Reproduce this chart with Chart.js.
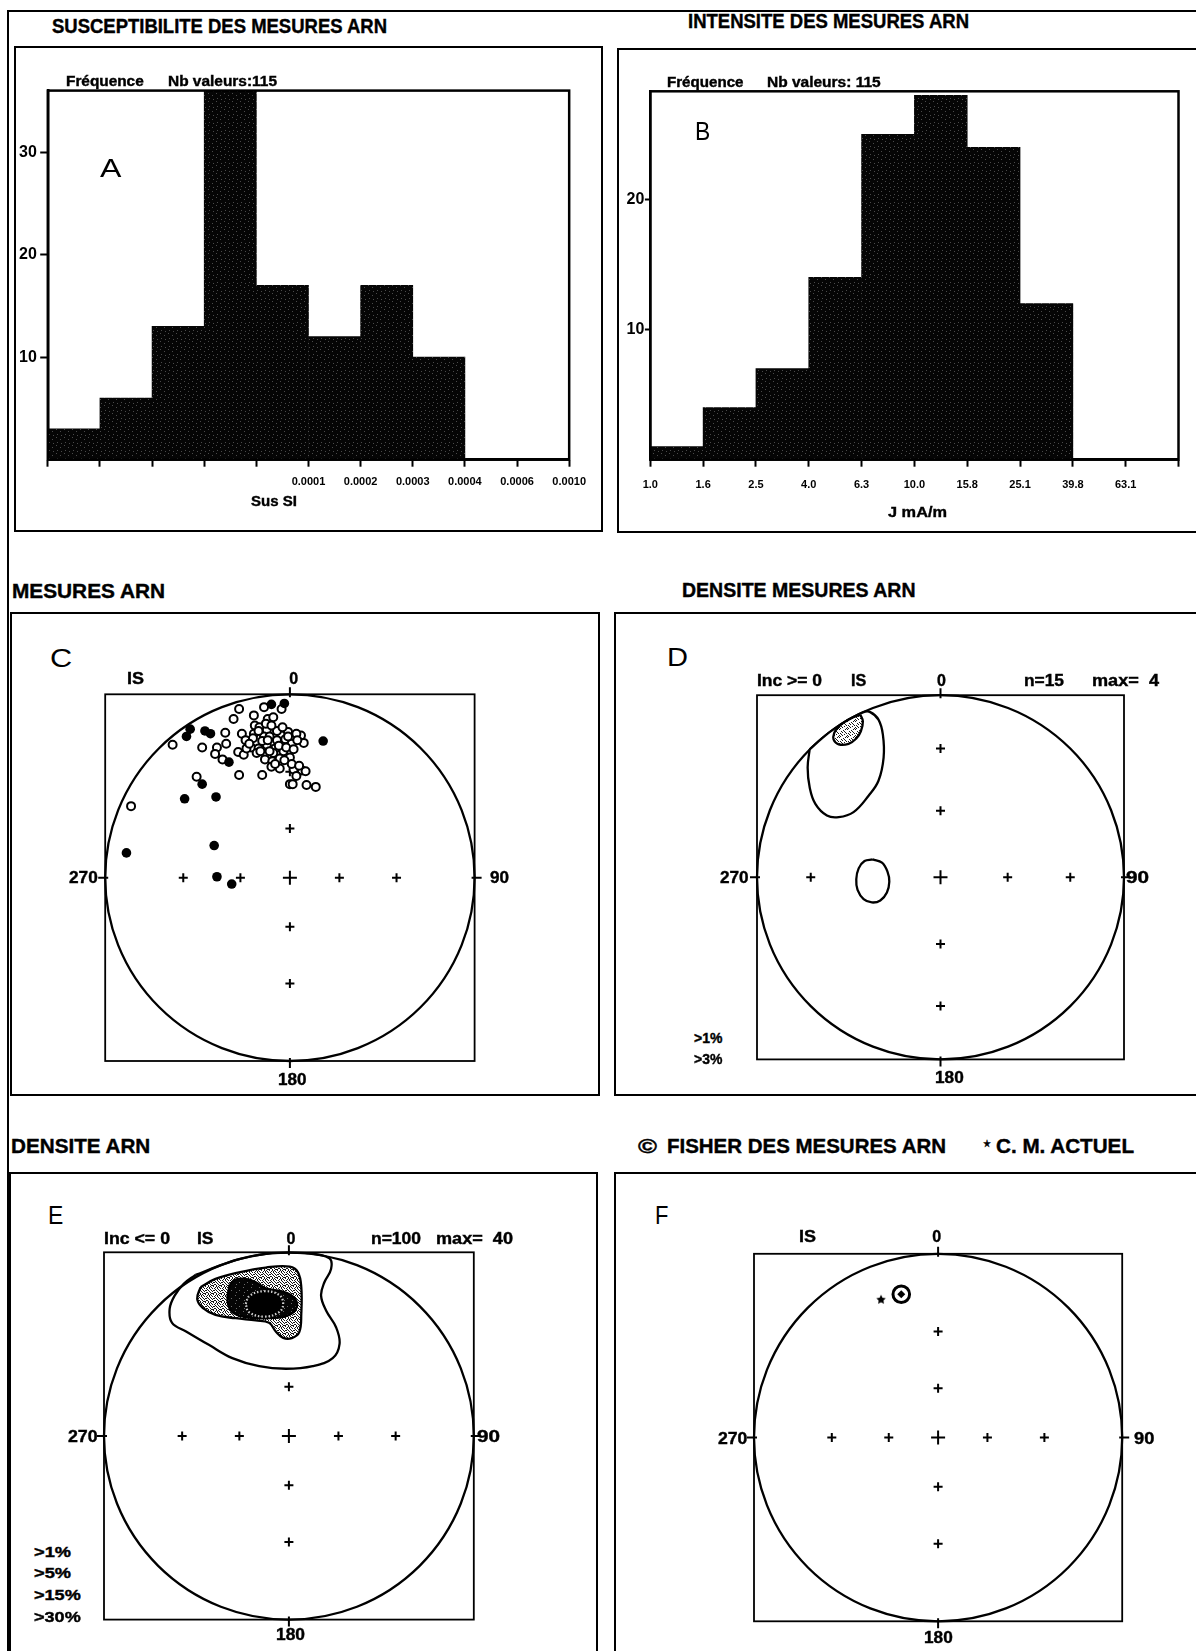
<!DOCTYPE html>
<html>
<head>
<meta charset="utf-8">
<script src="https://cdn.jsdelivr.net/npm/chart.js@4.4.1/dist/chart.umd.min.js"></script>
<style>
   html, body { margin: 0; padding: 0; background: #fff; }
   body { position: relative; width: 1196px; height: 1651px; overflow: hidden; }
   .box { position: absolute; border: 2px solid #000; box-sizing: border-box; }
   .lbl { position: absolute; white-space: pre; line-height: 1; color: #000; font-family: 'Liberation Sans', Arial, Helvetica, sans-serif; transform-origin: 0 0; -webkit-text-stroke: 0.4px #000; }
   canvas { position: absolute; }
</style>
</head>
<body>
<script>
// ---- A : susceptibility histogram (10 classes, log classes)
const susClassLabels = ['', '', '', '', '', '0.0001', '0.0002', '0.0003', '0.0004', '0.0006', '0.0010'];
const susCounts = [3, 6, 13, 37, 17, 12, 17, 10, 0, 0];
const susYTicks = [10, 20, 30];
const susYMax = 36;

// ---- B : intensity histogram (J mA/m)
const intClassLabels = ['1.0', '1.6', '2.5', '4.0', '6.3', '10.0', '15.8', '25.1', '39.8', '63.1', ''];
const intCounts = [1, 4, 7, 14, 25, 28, 24, 12, 0, 0];
const intYTicks = [10, 20];
const intYMax = 28.3;

// ---- stereonet grid: crosses at these inclinations
const gridInclinations = [60, 30];

// ---- C : directions, projected (x = east, y = north, unit = primitive radius)
// filled = Inc >= 0
const positiveInc = [
   [-0.10, 0.945], [-0.03, 0.95], [-0.54, 0.81], [-0.56, 0.77], [-0.46, 0.80],
   [-0.43, 0.785], [0.18, 0.745], [-0.33, 0.63], [-0.475, 0.51], [-0.57, 0.43],
   [-0.40, 0.44], [-0.41, 0.175], [-0.885, 0.135], [-0.395, 0.005], [-0.315, -0.035]
];
// open = Inc <= 0
const negativeInc = [
   [-0.275, 0.92], [-0.14, 0.93], [-0.045, 0.92], [-0.305, 0.865], [-0.195, 0.885],
   [-0.12, 0.865], [-0.09, 0.875], [-0.19, 0.83], [-0.165, 0.82], [-0.125, 0.805],
   [-0.35, 0.79], [-0.26, 0.785], [-0.195, 0.785], [-0.24, 0.75], [-0.14, 0.77],
   [-0.11, 0.77], [-0.045, 0.775], [-0.01, 0.795], [0.025, 0.77], [0.06, 0.775],
   [0.075, 0.735], [-0.025, 0.755], [-0.07, 0.75], [-0.635, 0.725], [-0.475, 0.71],
   [-0.395, 0.71], [-0.345, 0.73], [-0.405, 0.675], [-0.365, 0.645], [-0.28, 0.685],
   [-0.25, 0.67], [-0.21, 0.71], [-0.17, 0.705], [-0.125, 0.725], [-0.08, 0.705],
   [-0.035, 0.69], [0.01, 0.73], [-0.09, 0.68], [-0.135, 0.645], [-0.095, 0.635],
   [-0.055, 0.65], [0.0, 0.655], [-0.10, 0.605], [-0.055, 0.595], [0.02, 0.59],
   [0.065, 0.585], [0.085, 0.58], [-0.505, 0.55], [-0.275, 0.56], [-0.15, 0.56],
   [0.035, 0.555], [0.0, 0.51], [0.015, 0.51], [0.09, 0.505], [0.14, 0.495],
   [-0.86, 0.39], [-0.235, 0.705], [-0.01, 0.77], [0.035, 0.785],
   [-0.17, 0.80], [-0.15, 0.745], [-0.06, 0.72], [-0.02, 0.71], [0.04, 0.75],
   [-0.11, 0.69], [-0.20, 0.76], [-0.13, 0.84], [-0.07, 0.80], [0.01, 0.62],
   [-0.03, 0.64], [0.05, 0.61], [-0.08, 0.62], [-0.18, 0.68], [-0.22, 0.73],
   [-0.04, 0.82], [0.02, 0.70], [-0.12, 0.75], [-0.10, 0.83], [-0.16, 0.69]
];

// ---- D : density contours, Inc >= 0 (equal-area net)
const densPos1a = [
   [-0.713, 0.702], [-0.724, 0.603], [-0.713, 0.494], [-0.682, 0.403], [-0.619, 0.339],
   [-0.555, 0.330], [-0.474, 0.358], [-0.392, 0.448], [-0.338, 0.530], [-0.310, 0.657],
   [-0.314, 0.784], [-0.338, 0.866], [-0.383, 0.907], [-0.419, 0.907], [-0.50, 0.866],
   [-0.574, 0.819], [-0.643, 0.766]
];
const densPos1b = [
   [-0.370, 0.098], [-0.319, 0.080], [-0.289, 0.031], [-0.279, -0.024], [-0.292, -0.083],
   [-0.328, -0.127], [-0.374, -0.138], [-0.419, -0.120], [-0.452, -0.069], [-0.459, -0.011],
   [-0.446, 0.049], [-0.414, 0.089]
];
const densPos3 = [
   [-0.437, 0.893], [-0.423, 0.857], [-0.434, 0.802], [-0.459, 0.762], [-0.501, 0.733],
   [-0.555, 0.730], [-0.583, 0.757], [-0.579, 0.793], [-0.561, 0.820], [-0.53, 0.848],
   [-0.48, 0.877]
];

// ---- E : density contours, Inc <= 0
const densNeg1 = [
   [-0.505, 0.877], [-0.569, 0.828], [-0.618, 0.764], [-0.645, 0.692], [-0.632, 0.616],
   [-0.556, 0.569], [-0.433, 0.496], [-0.306, 0.424], [-0.161, 0.380], [-0.016, 0.366],
   [0.129, 0.380], [0.237, 0.424], [0.274, 0.502], [0.255, 0.592], [0.201, 0.683],
   [0.174, 0.764], [0.192, 0.837], [0.228, 0.909], [0.219, 0.967], [0.087, 0.996],
   [-0.087, 0.996], [-0.259, 0.966], [-0.375, 0.927]
];
const densNeg5 = [
   [-0.478, 0.810], [-0.496, 0.746], [-0.466, 0.697], [-0.397, 0.659], [-0.288, 0.641],
   [-0.179, 0.629], [-0.107, 0.616], [-0.071, 0.569], [-0.031, 0.534], [0.016, 0.533],
   [0.056, 0.565], [0.067, 0.665], [0.067, 0.810], [0.049, 0.891], [0.005, 0.922],
   [-0.125, 0.917], [-0.270, 0.891], [-0.397, 0.855]
];
const densNeg15 = [
   [-0.321, 0.822], [-0.332, 0.737], [-0.306, 0.674], [-0.234, 0.647], [-0.125, 0.641],
   [-0.016, 0.652], [0.038, 0.692], [0.034, 0.746], [-0.025, 0.783], [-0.125, 0.804],
   [-0.179, 0.837], [-0.234, 0.855], [-0.292, 0.850]
];
const densNeg30 = [
   [-0.234, 0.719], [-0.212, 0.764], [-0.134, 0.788], [-0.053, 0.768], [-0.031, 0.719],
   [-0.053, 0.674], [-0.134, 0.650], [-0.216, 0.674]
];

// ---- F : Fisher mean of the measures and present field direction
const fisherMean = [-0.20, 0.78];
const presentField = [-0.31, 0.75];

const FONT = "'Liberation Sans', Arial, Helvetica, sans-serif";
Chart.defaults.font.family = FONT;
Chart.defaults.color = '#000';
Chart.defaults.plugins.legend.display = false;
Chart.defaults.plugins.tooltip.enabled = false;

function addBox(l, t, r, b) {
   const el = document.createElement('div');
   el.className = 'box';
   el.style.left = (l - 1) + 'px';
   el.style.top = (t - 1) + 'px';
   el.style.width = (r - l + 2) + 'px';
   el.style.height = (b - t + 2) + 'px';
   document.body.appendChild(el);
}

// text placed by its left (or center/right) edge and the middle of its capitals
function addText(txt, x, cy, size, o) {
   o = o || {};
   const el = document.createElement('div');
   el.className = 'lbl';
   el.textContent = txt;
   el.style.fontSize = size + 'px';
   el.style.fontWeight = o.normal ? 'normal' : 'bold';
   if (o.normal) el.style.webkitTextStroke = '0px';
   if (o.family) el.style.fontFamily = o.family;
   document.body.appendChild(el);
   const w = el.getBoundingClientRect().width;
   const sx = o.w ? o.w / w : 1;
   const width = w * sx;
   let left = x;
   if (o.align === 'center') left = x - width / 2;
   else if (o.align === 'right') left = x - width;
   el.style.left = left + 'px';
   el.style.top = (cy - 0.49 * size) + 'px';
   el.style.transform = 'scaleX(' + sx + ')';
}

function makeCanvas(left, top, width, height) {
   const cv = document.createElement('canvas');
   cv.width = width;
   cv.height = height;
   cv.style.left = left + 'px';
   cv.style.top = top + 'px';
   document.body.appendChild(cv);
   return cv;
}

function tile(size, bg, fg, dots) {
   const c = document.createElement('canvas');
   c.width = c.height = size;
   const g = c.getContext('2d');
   g.fillStyle = bg;
   g.fillRect(0, 0, size, size);
   g.fillStyle = fg;
   dots.forEach(d => g.fillRect(d[0], d[1], 1, 1));
   return c;
}
const tiles = {
   bar: tile(8, '#050505', '#4a4a4a', [[1, 1], [5, 3], [2, 6], [6, 7]]),
   light: tile(8, '#ffffff', '#1a1a1a', [[0, 0], [4, 1], [2, 2], [6, 3], [1, 4], [5, 5], [3, 6], [7, 7],
      [6, 0], [2, 5], [0, 6], [5, 2], [3, 3], [7, 4], [1, 7]]),
   medium: tile(8, '#ffffff', '#151515', [[0, 0], [3, 0], [6, 0], [1, 1], [5, 1], [2, 2], [4, 2], [7, 2],
      [0, 3], [5, 3], [1, 4], [3, 4], [6, 4], [2, 5], [7, 5], [0, 6], [4, 6], [5, 6], [1, 7], [3, 7],
      [6, 7], [7, 1], [4, 4], [2, 7]]),
   dark: tile(8, '#050505', '#6a6a6a', [[1, 1], [5, 4], [2, 6]])
};

function starCanvas(r) {
   const s = Math.ceil(2 * r + 2);
   const c = document.createElement('canvas');
   c.width = c.height = s;
   const g = c.getContext('2d');
   g.fillStyle = '#000';
   g.beginPath();
   for (let k = 0; k < 10; k++) {
      const a = -Math.PI / 2 + k * Math.PI / 5;
      const rr = k % 2 ? r * 0.5 : r;
      g.lineTo(s / 2 + rr * Math.cos(a), s / 2 + rr * Math.sin(a));
   }
   g.closePath();
   g.fill();
   return c;
}

const framePlugin = {
   id: 'frame',
   afterDatasetsDraw(chart, args, opts) {
      const {ctx, chartArea: a} = chart;
      ctx.save();
      ctx.strokeStyle = '#000';
      ctx.lineWidth = opts.width || 2.5;
      ctx.strokeRect(a.left, a.top, a.right - a.left, a.bottom - a.top);
      ctx.restore();
   }
};

function projectRadius(inc, proj) {
   const z = (90 - inc) * Math.PI / 180;
   return proj === 'equal-area' ? Math.SQRT2 * Math.sin(z / 2) : Math.tan(z / 2);
}

// frame, primitive circle, cardinal ticks and grid crosses of a net
const netPlugin = {
   id: 'net',
   beforeDatasetsDraw(chart, args, opts) {
      const {ctx, chartArea: a} = chart;
      const px = v => chart.scales.x.getPixelForValue(v);
      const py = v => chart.scales.y.getPixelForValue(v);
      const cx = px(0), cy = py(0);
      ctx.save();
      ctx.strokeStyle = '#000';
      ctx.lineWidth = 1.8;
      ctx.strokeRect(a.left, a.top, a.right - a.left, a.bottom - a.top);
      ctx.lineWidth = 2.3;
      ctx.beginPath();
      ctx.ellipse(cx, cy, px(1) - cx, cy - py(1), 0, 0, 2 * Math.PI);
      ctx.stroke();
      ctx.lineWidth = 2;
      ctx.beginPath();
      ctx.moveTo(cx, a.top - 7); ctx.lineTo(cx, a.top + 3);
      ctx.moveTo(cx, a.bottom - 3); ctx.lineTo(cx, a.bottom + 7);
      ctx.moveTo(a.left - 7, cy); ctx.lineTo(a.left + 3, cy);
      ctx.moveTo(a.right - 3, cy); ctx.lineTo(a.right + 7, cy);
      const cross = (x, y, s) => {
         ctx.moveTo(x - s, y); ctx.lineTo(x + s, y);
         ctx.moveTo(x, y - s); ctx.lineTo(x, y + s);
      };
      cross(cx, cy, 7);
      gridInclinations.forEach(inc => {
         const r = projectRadius(inc, opts.projection);
         cross(px(r), cy, 4.5); cross(px(-r), cy, 4.5);
         cross(cx, py(r), 4.5); cross(cx, py(-r), 4.5);
      });
      ctx.stroke();
      ctx.restore();
   }
};

function histogram(pos, g, counts, classLabels, yTicks, yMax) {
   const cv = makeCanvas(pos.left, pos.top, pos.width, pos.height);
   const ctx = cv.getContext('2d');
   return new Chart(cv, {
      type: 'bar',
      data: {
         datasets: [{
            data: counts.map((c, i) => ({x: i + 0.5, y: c})),
            backgroundColor: ctx.createPattern(tiles.bar, 'repeat'),
            borderWidth: 0,
            barPercentage: 1,
            categoryPercentage: 1
         }]
      },
      options: {
         responsive: false,
         animation: false,
         events: [],
         layout: {padding: g.padding},
         plugins: {frame: {width: 2.5}},
         scales: {
            x: {
               type: 'linear',
               min: 0,
               max: classLabels.length - 1,
               offset: false,
               afterBuildTicks: s => { s.ticks = classLabels.map((t, i) => ({value: i})); },
               afterFit: s => { s.height = g.xh; },
               grid: {drawOnChartArea: false, offset: false, tickLength: 7, tickColor: '#000', tickWidth: 2},
               border: {color: '#000', width: 2.5},
               ticks: {
                  autoSkip: false, maxRotation: 0, padding: g.xpad,
                  font: {size: 11, weight: 'bold'},
                  callback: (v, i) => classLabels[i]
               }
            },
            y: {
               min: 0,
               max: yMax,
               afterBuildTicks: s => { s.ticks = yTicks.map(v => ({value: v})); },
               afterFit: s => { s.width = g.yw; },
               grid: {drawOnChartArea: false, tickLength: g.ytl, tickColor: '#000', tickWidth: 2},
               border: {color: '#000', width: 2.5},
               ticks: {padding: g.ypad, font: {size: 16, weight: 'bold'}}
            }
         }
      },
      plugins: [framePlugin]
   });
}

const pts = arr => arr.map(p => ({x: p[0], y: p[1]}));
const loop = arr => pts(arr.concat([arr[0]]));

function contour(arr, o) {
   return Object.assign({
      data: loop(arr), showLine: true, pointRadius: 0, tension: 0.4,
      borderColor: '#000', borderWidth: 2.3, fill: false, backgroundColor: 'rgba(0,0,0,0)'
   }, o);
}

// sq = square of the net in page pixels
function stereonet(sq, projection, makeDatasets) {
   const m = 14;
   const left = Math.floor(sq.l) - m, top = Math.floor(sq.t) - m;
   const width = Math.ceil(sq.r) + m - left, height = Math.ceil(sq.b) + m - top;
   const cv = makeCanvas(left, top, width, height);
   const ctx = cv.getContext('2d');
   return new Chart(cv, {
      type: 'scatter',
      data: {datasets: makeDatasets(ctx)},
      options: {
         responsive: false,
         animation: false,
         events: [],
         layout: {padding: {left: sq.l - left, top: sq.t - top, right: left + width - sq.r, bottom: top + height - sq.b}},
         plugins: {net: {projection: projection}},
         scales: {
            x: {type: 'linear', min: -1, max: 1, display: false},
            y: {type: 'linear', min: -1, max: 1, display: false}
         }
      },
      plugins: [netPlugin]
   });
}

// ---------- frames
addBox(8, 10.5, 1400, 1900);
addBox(15, 47.3, 601.5, 531.5);
addBox(618.2, 49, 1400, 531.5);
addBox(11, 613.4, 599, 1095.5);
addBox(615, 613.4, 1400, 1095.5);
addBox(10, 1172.5, 597, 1900);
addBox(615, 1172.5, 1400, 1900);

// ---------- histograms
histogram({left: 15, top: 60, width: 580, height: 468},
   {padding: {left: 0, top: 30.6, right: 21, bottom: 28.3}, yw: 32.8, xh: 40, xpad: 9, ytl: 7.6, ypad: 3.3},
   susCounts, susClassLabels, susYTicks, susYMax);
histogram({left: 620, top: 60, width: 574, height: 468},
   {padding: {left: 0, top: 31.3, right: 15.5, bottom: 28.3}, yw: 30.3, xh: 40, xpad: 12, ytl: 5.4, ypad: 0.5},
   intCounts, intClassLabels, intYTicks, intYMax);

// ---------- C : measures
stereonet({l: 105.2, t: 694.3, r: 474.6, b: 1061}, 'stereo', () => [
   {data: pts(negativeInc), pointStyle: 'circle', pointRadius: 4, pointBackgroundColor: '#fff',
      pointBorderColor: '#000', pointBorderWidth: 2, order: 1},
   {data: pts(positiveInc), pointStyle: 'circle', pointRadius: 4.8, pointBackgroundColor: '#000',
      pointBorderColor: '#000', pointBorderWidth: 0, order: 0}
]);

// ---------- D : density Inc >= 0
stereonet({l: 757, t: 695.2, r: 1124, b: 1059.4}, 'equal-area', ctx => [
   contour(densPos1a, {fill: 'shape', backgroundColor: '#fff', order: 3}),
   contour(densPos1b, {fill: 'shape', backgroundColor: '#fff', order: 2}),
   contour(densPos3, {fill: 'shape', backgroundColor: ctx.createPattern(tiles.light, 'repeat'), order: 1})
]);

// ---------- E : density Inc <= 0
stereonet({l: 104, t: 1252.3, r: 473.8, b: 1619.6}, 'stereo', ctx => [
   contour(densNeg1, {order: 4}),
   contour(densNeg5, {fill: 'shape', backgroundColor: ctx.createPattern(tiles.medium, 'repeat'), order: 3}),
   contour(densNeg15, {fill: 'shape', backgroundColor: ctx.createPattern(tiles.dark, 'repeat'), order: 2}),
   contour(densNeg30, {fill: 'shape', backgroundColor: '#000', borderColor: '#d0d0d0',
      borderWidth: 2.2, borderDash: [1.5, 2], order: 1})
]);

// ---------- F : Fisher mean and present field
stereonet({l: 754, t: 1253.8, r: 1122.2, b: 1621.3}, 'stereo', () => [
   {data: pts([presentField]), pointStyle: starCanvas(5), order: 2},
   {data: pts([fisherMean]), pointStyle: 'circle', pointRadius: 8.3, pointBackgroundColor: '#fff',
      pointBorderColor: '#000', pointBorderWidth: 3, order: 1},
   {data: pts([fisherMean]), pointStyle: 'rectRot', pointRadius: 4, pointBackgroundColor: '#000',
      pointBorderWidth: 0, order: 0}
]);

// ---------- titles
addText('SUSCEPTIBILITE DES MESURES ARN', 51.7, 25.4, 20, {w: 335});
addText('INTENSITE DES MESURES ARN', 687.8, 20.6, 20, {w: 281});
addText('MESURES ARN', 11.5, 590.3, 20, {w: 153});
addText('DENSITE MESURES ARN', 682, 589.3, 20, {w: 233.5});
addText('DENSITE ARN', 10.7, 1145.4, 20, {w: 139.3});
addText('\u00A9', 638, 1145.4, 20, {w: 19});
addText('FISHER DES MESURES ARN', 666.8, 1145.4, 20, {w: 279});
addText('\u2605', 982.5, 1143.5, 10, {w: 8, family: "'DejaVu Sans', sans-serif"});
addText('C. M. ACTUEL', 996, 1145.4, 20, {w: 138});

// ---------- panel letters
addText('A', 100.3, 168.2, 26, {w: 21.4, normal: true});
addText('B', 694.7, 131, 26, {w: 15.3, normal: true});
addText('C', 49.7, 657.7, 26, {w: 22.2, normal: true});
addText('D', 666.8, 657, 26, {w: 21, normal: true});
addText('E', 47.8, 1214.6, 26, {w: 15.3, normal: true});
addText('F', 655, 1214.6, 26, {w: 13.4, normal: true});

// ---------- histogram headers and axis titles
addText('Fréquence', 65.8, 81, 14, {w: 77.7});
addText('Nb valeurs:115', 168, 81, 14, {w: 109});
addText('Fréquence', 666.8, 82, 14, {w: 76.5});
addText('Nb valeurs: 115', 767.4, 82, 14, {w: 113.7});
addText('Sus SI', 273.6, 500.7, 15, {w: 46, align: 'center'});
addText('J mA/m', 917, 511, 15, {w: 59, align: 'center'});

// ---------- net annotations
addText('IS', 127.4, 679, 16, {w: 17});
addText('0', 293.7, 679, 16, {align: 'center'});
addText('270', 97.6, 877.5, 16, {w: 28.7, align: 'right'});
addText('90', 490, 877.5, 16, {w: 19});
addText('180', 291.8, 1080, 16, {w: 28.5, align: 'center'});

addText('Inc >= 0', 756.7, 680.5, 16, {w: 65});
addText('IS', 850.5, 680.5, 16, {w: 15.3});
addText('0', 941.5, 680.5, 16, {align: 'center'});
addText('n=15', 1024, 680.5, 16, {w: 40});
addText('max=  4', 1091.6, 680.5, 16, {w: 67});
addText('270', 749, 878, 16, {w: 28.6, align: 'right'});
addText('90', 1126, 878, 16, {w: 23});
addText('180', 949, 1078.3, 16, {w: 28.7, align: 'center'});
addText('>1%', 693.6, 1037.3, 15, {w: 28.4});
addText('>3%', 693.6, 1058.8, 15, {w: 28.4});

addText('Inc <= 0', 104, 1238.5, 16, {w: 66});
addText('IS', 197, 1238.5, 16, {w: 16.5});
addText('0', 291, 1238.5, 16, {align: 'center'});
addText('n=100', 371, 1238.5, 16, {w: 50});
addText('max=  40', 436, 1238.5, 16, {w: 77});
addText('270', 97.6, 1436.7, 16, {w: 29.6, align: 'right'});
addText('90', 476.5, 1436.7, 16, {w: 23});
addText('180', 290, 1634.8, 16, {w: 29, align: 'center'});
addText('>1%', 33.7, 1551, 15, {w: 37});
addText('>5%', 33.7, 1572.6, 15, {w: 37});
addText('>15%', 33.7, 1594.6, 15, {w: 46.7});
addText('>30%', 33.7, 1616, 15, {w: 46.7});

addText('IS', 799, 1236.8, 16, {w: 17});
addText('0', 936.6, 1236.8, 16, {align: 'center'});
addText('270', 747, 1438.4, 16, {w: 29.4, align: 'right'});
addText('90', 1133.7, 1438.4, 16, {w: 20.3});
addText('180', 938.5, 1638, 16, {w: 28.7, align: 'center'});
</script>
</body>
</html>
